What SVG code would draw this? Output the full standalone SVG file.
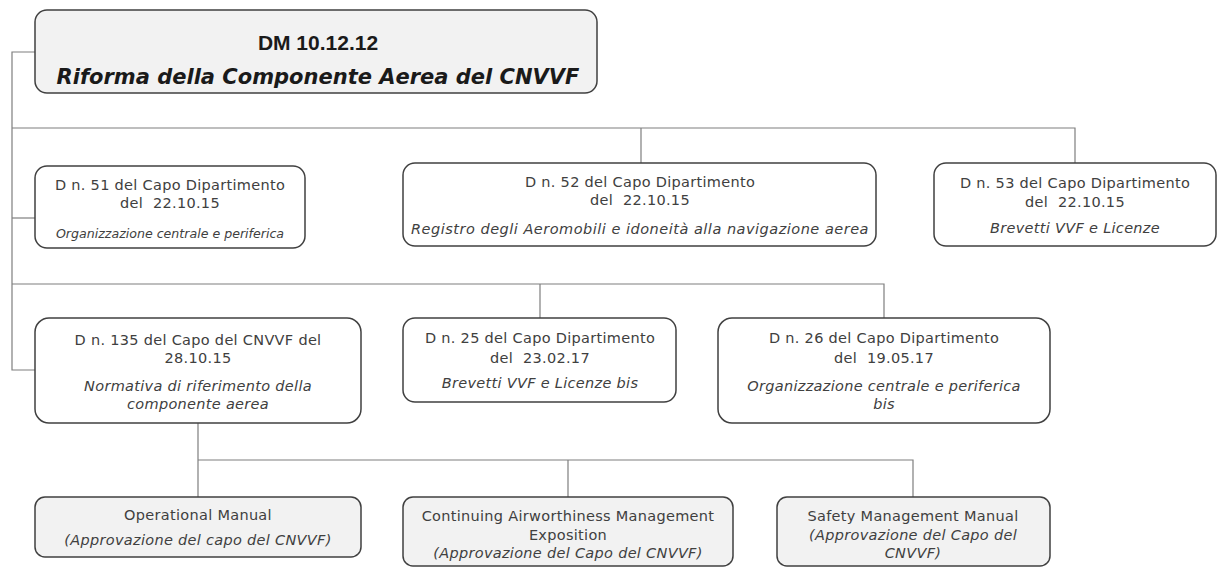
<svg xmlns="http://www.w3.org/2000/svg" width="1217" height="567" viewBox="0 0 1217 567">
<style>
.bg{fill:#ffffff}
.box{stroke:#404040;stroke-width:1.5}
.w{fill:#ffffff}
.g{fill:#f2f2f2}
.con{fill:none;stroke:#7f7f7f;stroke-width:1.2}
text{font-family:"DejaVu Sans","Liberation Sans",sans-serif;font-size:14.5px;letter-spacing:0.3px;fill:#404040;text-anchor:middle;white-space:pre}
.it{font-style:italic}
.sm{font-size:12.6px;letter-spacing:0}
.wide{letter-spacing:0.5px}
.t1{font-family:"Liberation Sans",Arial,sans-serif;font-size:21px;font-weight:bold;letter-spacing:0;fill:#1a1a1a}
.t2{font-size:21px;font-weight:bold;font-style:italic;letter-spacing:0;fill:#1a1a1a}
</style>
<rect class="bg" x="0" y="0" width="1217" height="567"/>
<g id="connectors">
<path class="con" d="M35,52 H12 V370 H35"/>
<path class="con" d="M12,128 H1075 V163 M641,128 V163"/>
<path class="con" d="M12,218 H35"/>
<path class="con" d="M12,284 H884 V318 M540,284 V318"/>
<path class="con" d="M198,423 V497 M198,460 H913 V497 M568,460 V497"/>
</g>
<g id="n0">
<rect class="box g" x="35" y="10" width="562" height="83" rx="12"/>
<text class="t1" x="318" y="50">DM 10.12.12</text>
<text class="t2" x="318" y="84">Riforma della Componente Aerea del CNVVF</text>
</g>
<g id="n51">
<rect class="box w" x="35" y="166" width="270" height="82" rx="12"/>
<text x="170" y="190">D n. 51 del Capo Dipartimento</text>
<text x="170" y="208">del  22.10.15</text>
<text class="it sm" x="170" y="238">Organizzazione centrale e periferica</text>
</g>
<g id="n52">
<rect class="box w" x="403" y="163" width="473" height="83" rx="12"/>
<text x="640" y="187">D n. 52 del Capo Dipartimento</text>
<text x="640" y="205">del  22.10.15</text>
<text class="it wide" x="640" y="234">Registro degli Aeromobili e idoneità alla navigazione aerea</text>
</g>
<g id="n53">
<rect class="box w" x="934" y="163" width="282" height="83" rx="12"/>
<text x="1075" y="188">D n. 53 del Capo Dipartimento</text>
<text x="1075" y="207">del  22.10.15</text>
<text class="it" x="1075" y="233">Brevetti VVF e Licenze</text>
</g>
<g id="n135">
<rect class="box w" x="35" y="318" width="326" height="105" rx="14"/>
<text x="198" y="345">D n. 135 del Capo del CNVVF del</text>
<text x="198" y="363">28.10.15</text>
<text class="it" x="198" y="391">Normativa di riferimento della</text>
<text class="it" x="198" y="409">componente aerea</text>
</g>
<g id="n25">
<rect class="box w" x="403" y="318" width="273" height="84" rx="12"/>
<text x="540" y="343">D n. 25 del Capo Dipartimento</text>
<text x="540" y="363">del  23.02.17</text>
<text class="it" x="540" y="388">Brevetti VVF e Licenze bis</text>
</g>
<g id="n26">
<rect class="box w" x="718" y="318" width="332" height="105" rx="14"/>
<text x="884" y="343">D n. 26 del Capo Dipartimento</text>
<text x="884" y="363">del  19.05.17</text>
<text class="it" x="884" y="391">Organizzazione centrale e periferica</text>
<text class="it" x="884" y="409">bis</text>
</g>
<g id="nOM">
<rect class="box g" x="35" y="497" width="326" height="60" rx="10"/>
<text x="198" y="520">Operational Manual</text>
<text class="it" x="198" y="545">(Approvazione del capo del CNVVF)</text>
</g>
<g id="nCAM">
<rect class="box g" x="403" y="497" width="330" height="69" rx="10"/>
<text x="568" y="521">Continuing Airworthiness Management</text>
<text x="568" y="540">Exposition</text>
<text class="it" x="568" y="558">(Approvazione del Capo del CNVVF)</text>
</g>
<g id="nSMM">
<rect class="box g" x="777" y="497" width="273" height="69" rx="10"/>
<text x="913" y="521">Safety Management Manual</text>
<text class="it" x="913" y="540">(Approvazione del Capo del</text>
<text class="it" x="913" y="558">CNVVF)</text>
</g>
</svg>
